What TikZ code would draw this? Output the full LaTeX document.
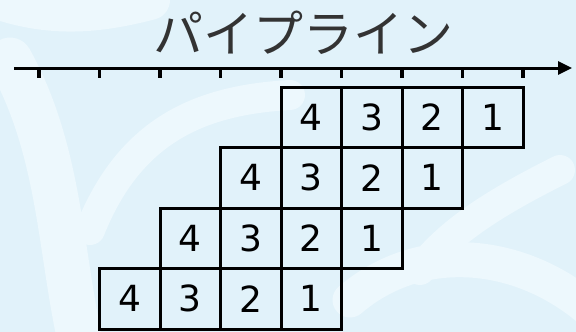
\documentclass[tikz,border=0pt]{standalone}
\usepackage{fontspec}
\setmainfont{DejaVu Sans}
\newfontfamily\jpfont{Noto Sans CJK JP}
\usetikzlibrary{arrows.meta,positioning}
\definecolor{bgblue}{HTML}{E1F2FA}
\definecolor{swirl}{HTML}{EDF8FD}
\definecolor{titlegray}{HTML}{333333}
\tikzset{
 cell/.style={draw=black,line width=3pt,minimum size=60.5pt,inner sep=0pt,
   outer sep=0pt,font=\fontsize{36}{36}\selectfont},
 titletext/.style={font=\jpfont\fontsize{50}{50}\selectfont,text=titlegray},
 axisarrow/.style={-{Triangle[length=14pt,width=13pt]},line width=3pt,draw=black},
 tickmark/.style={line width=3.5pt,draw=black},
 swirlband/.style={draw=swirl,line cap=round}
}

\begin{document}
\begin{tikzpicture}[x=1pt,y=-1pt]
 \useasboundingbox (0,0) rectangle (576,332);
 \begin{scope}
  \clip (0,0) rectangle (576,332);
  \fill[bgblue] (0,0) rectangle (576,332);
  % background swirls
  \draw[swirlband,line width=45pt] (10,60) .. controls (60,150) and (60,250) .. (80,340);
  \draw[swirlband,line width=30pt] (90,230) .. controls (130,130) and (200,100) .. (290,95);
  \draw[swirlband,line width=30pt] (560,170) .. controls (500,200) and (450,230) .. (420,270);
  \draw[swirlband,line width=35pt] (350,300) .. controls (420,240) and (520,250) .. (590,310);
  \draw[swirlband,line width=40pt] (0,0) .. controls (60,20) and (110,10) .. (150,0);
 \end{scope}
 \node[titletext] (title) at (303,33) {パイプライン};
 \coordinate (axstart) at (14,68);
 \coordinate (axend) at (572,68);
 \draw[axisarrow] (axstart) -- (axend);
 \foreach \k in {0,...,8}
   \draw[tickmark] (39+60.5*\k,68) -- ++(0,10);
 % stage 1 (top)
 \node[cell] (a4) at (311.25,117.25) {4};
 \node[cell,right=0pt of a4] (a3) {3};
 \node[cell,right=0pt of a3] (a2) {2};
 \node[cell,right=0pt of a2] (a1) {1};
 % stage 2
 \node[cell] (b4) at (250.75,177.75) {4};
 \node[cell,right=0pt of b4] (b3) {3};
 \node[cell,right=0pt of b3] (b2) {2};
 \node[cell,right=0pt of b2] (b1) {1};
 % stage 3
 \node[cell] (c4) at (190.25,238.25) {4};
 \node[cell,right=0pt of c4] (c3) {3};
 \node[cell,right=0pt of c3] (c2) {2};
 \node[cell,right=0pt of c2] (c1) {1};
 % stage 4 (bottom)
 \node[cell] (d4) at (129.75,298.75) {4};
 \node[cell,right=0pt of d4] (d3) {3};
 \node[cell,right=0pt of d3] (d2) {2};
 \node[cell,right=0pt of d2] (d1) {1};
\end{tikzpicture}
\end{document}
